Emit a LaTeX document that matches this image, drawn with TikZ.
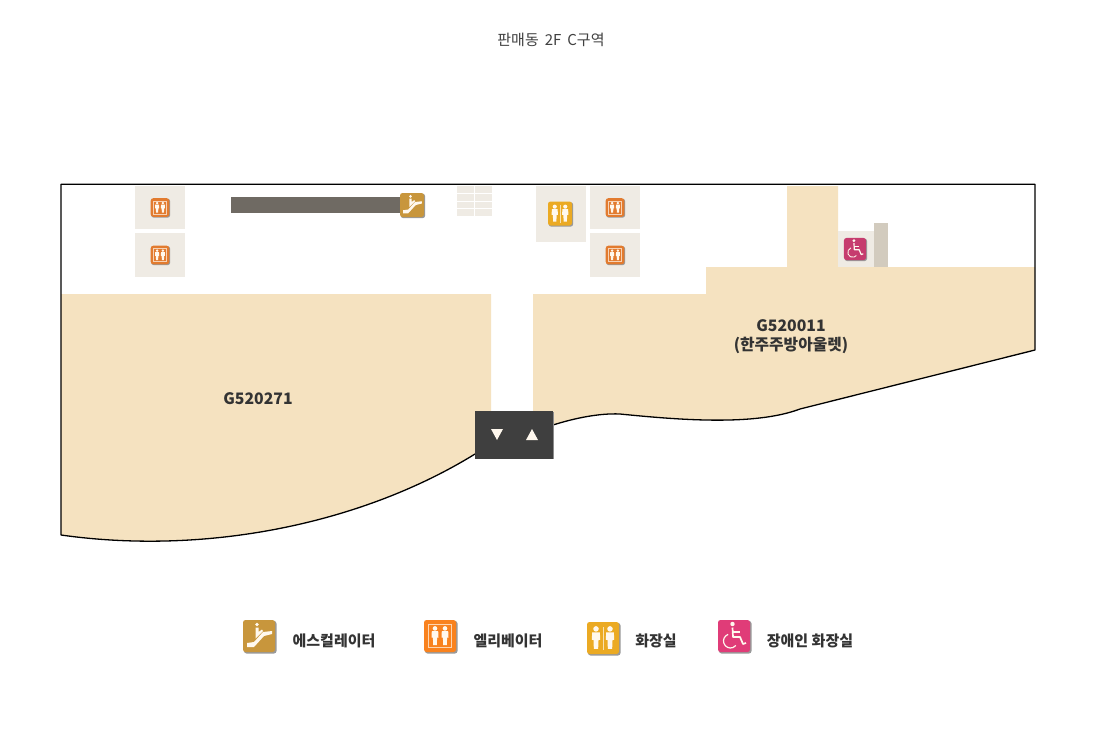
\documentclass[tikz,border=0pt]{standalone}
\usepackage{fontspec}
\setmainfont{Noto Sans CJK KR}
\usetikzlibrary{calc}
\definecolor{shoptan}{HTML}{F5E2C0}
\definecolor{roomgrey}{HTML}{EFEBE4}
\definecolor{escbar}{HTML}{6F6A63}
\definecolor{wallgrey}{HTML}{D2CBBE}
\definecolor{hallgrey}{HTML}{3F3F3F}
\definecolor{esccol}{HTML}{C8963C}
\definecolor{wccol}{HTML}{EBAA23}
\definecolor{liftcol}{HTML}{F9821E}
\definecolor{liftdark}{HTML}{E27B2F}
\definecolor{discol}{HTML}{E03C78}
\definecolor{disdark}{HTML}{C63C6E}
\definecolor{whiteish}{HTML}{FFF8EE}
\def\iconlw{1}
\newcommand\iconbase[1]{%
  \fill[black!40,rounded corners=2.5] (-15,-15) rectangle (17.5,17.5);
  \fill[#1,rounded corners=2.5] (-16,-16) rectangle (16,16);}
\newcommand\personat[3]{%
  \begin{scope}[xshift=#1,yshift=#2,scale=#3]
    \fill[whiteish] (0,-7.6) circle (2.3);
    \fill[whiteish] (-3.2,-4.8) -- (3.2,-4.8) -- (3.5,1.5) -- (2.1,1.5) -- (1.8,9)
      -- (-1.8,9) -- (-2.1,1.5) -- (-3.5,1.5) -- cycle;
  \end{scope}}
\tikzset{
  room/.style={fill=roomgrey},
  shop/.style={fill=shoptan},
  outline/.style={draw=black,line width=1.3pt},
  shoplabel/.style={font=\fontsize{15.8}{18}\selectfont\bfseries,text=black!80},
  legendlabel/.style={font=\fontsize{15}{18}\selectfont\bfseries,text=black!80},
  mini/.style={scale=#1,/utils/exec={\def\iconlw{#1}}},
  esc/.pic={
    \iconbase{#1}
    \fill[whiteish] (-12,11) -- (-5,11) -- (5,0) -- (13,-2) -- (13,-5) -- (4,-4)
      -- (-5,6) -- (-12,7) -- cycle;
    \fill[whiteish] (-2,-11.5) circle (1.9);
    \fill[whiteish] (-3.5,-8.5) -- (-.5,-8.5) -- (-.5,-4) -- (3,-6.5) -- (4,-5)
      -- (-3.5,2.5) -- cycle;
  },
  lift/.pic={
    \iconbase{#1}
    \draw[whiteish!70!#1,line width=\iconlw*.9pt] (-11.5,-11.5) rectangle (11.5,11.5);
    \personat{-5}{0}{1}
    \personat{5}{0}{1}
  },
  wc/.pic={
    \iconbase{#1}
    \fill[whiteish!70!#1] (-.5,-11) rectangle (.5,12);
    \personat{-7}{0}{1.2}
    \personat{7}{0}{1.2}
  },
  dis/.pic={
    \iconbase{#1}
    \fill[whiteish] (-1.5,-12) circle (2.2);
    \draw[whiteish,line width=\iconlw*1.7pt,line join=round] (-1.5,-8.5) -- (-1,1)
      -- (6,1) -- (9,8) -- (12,7);
    \draw[whiteish,line width=\iconlw*1.3pt] (-1,-4) -- (6,-4);
    \draw[whiteish,line width=\iconlw*1.2pt] (-5.9,-1.6)
      arc[start angle=-110,end angle=-320,radius=7];
  }
}
\begin{document}
\begin{tikzpicture}[x=1pt,y=-1pt]
\useasboundingbox[fill=white] (0,0) rectangle (1100,732);
\node[text=black!75] (title) at (551,40)
  {\fontsize{15}{16}\selectfont 판매동\hspace{.4em}2F\hspace{.4em}C구역};
% shops
\path[shop] (61,294) -- (491,294) -- (491,440) -- (475,454)
  .. controls (365,522) and (210,556) .. (61,535) -- cycle;
\path[shop] (533,294) -- (706,294) -- (706,267) -- (787,267) -- (787,186)
  -- (838,186) -- (838,267) -- (1035,267) -- (1035,350) -- (800,409)
  .. controls (755,426) and (680,420) .. (620,414)
  .. controls (600,413) and (575,418) .. (553,425) -- (533,430) -- cycle;
% rooms
\foreach \rx in {135,590} {
  \path[room] (\rx,186) rectangle +(50,43);
  \path[room] (\rx,233) rectangle +(50,44);
}
\path[room] (536,186) rectangle (586,242);
\path[room] (838,231) rectangle (874,267);
\path[fill=wallgrey] (874,223) rectangle (888,267);
\path[fill=escbar] (231,197) rectangle (402,213);
% stairs
\foreach \sy/\sh in {186/6.5,194/6.5,201.5/6.5,209/7} {
  \path[room] (457,\sy) rectangle +(17,\sh);
  \path[room] (475,\sy) rectangle +(17,\sh);
}
% outline
\draw[outline,line join=round] (475,454)
  .. controls (365,522) and (210,556) .. (61,535) -- (61,184.3) -- (1035,184.3)
  -- (1035,350) -- (800,409)
  .. controls (755,426) and (680,420) .. (620,414)
  .. controls (600,413) and (575,418) .. (553,425);
% entrance
\path[fill=black!45] (476,412) rectangle (554,459);
\path[fill=hallgrey] (475,411) rectangle (553,459);
\path[fill=whiteish] (491,429) -- (503,429) -- (497,440) -- cycle;
\path[fill=whiteish] (526,440) -- (538,440) -- (532,429) -- cycle;
% icons on the plan
\pic[mini=.75] at (412,205) {esc=esccol};
\foreach \ix/\iy in {160/207.5,160/255,615/207.5,615/255}
  \pic[mini=.58] at (\ix,\iy) {lift=liftdark};
\pic[mini=.75] at (560,213.5) {wc=wccol};
\pic[mini=.69] at (855,249) {dis=disdark};
% labels
\node[shoplabel] (shopleft) at (258,398.5) {G520271};
\node[shoplabel] (shopright) at (791,325.5) {G520011};
\node[shoplabel] (shopname) at (791,345.5) {(한주주방아울렛)};
% legend
\pic at (259,636) {esc=esccol};
\pic at (440,636) {lift=liftcol};
\pic at (603,638) {wc=wccol};
\pic at (734,636) {dis=discol};
\node[legendlabel] (legesc) at (334,640.5) {에스컬레이터};
\node[legendlabel] (leglift) at (508,640.5) {엘리베이터};
\node[legendlabel] (legwc) at (656,640.5) {화장실};
\node[legendlabel] (legdis) at (810,640.5) {장애인 화장실};
\end{tikzpicture}
\end{document}
